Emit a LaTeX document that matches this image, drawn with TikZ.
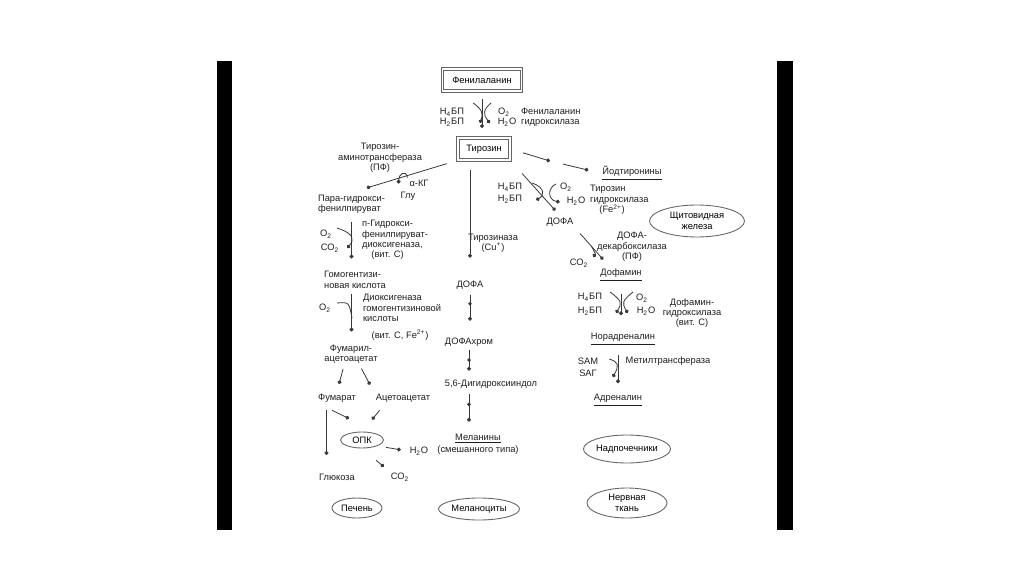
\documentclass[tikz,border=0pt]{standalone}
\usepackage{fontspec}
\setmainfont{Liberation Sans}
\usetikzlibrary{positioning,arrows.meta,calc,shapes.geometric}
\colorlet{inkline}{black!78}
\colorlet{inkframe}{black!60}

\begin{document}
\begin{tikzpicture}[x=0.02cm, y=-0.02cm,
  font=\fontsize{5.3}{5.9}\selectfont,
  lbl/.style={inner sep=1pt, align=center, text=black!88},
  lbll/.style={lbl, align=left},
  subst/.style={draw=inkframe, double, double distance=1.1pt, fill=white, inner sep=1pt, minimum height=0.44cm},
  organ/.style={draw=inkframe, ellipse, inner sep=0pt, align=center, line width=0.5pt},
  conn/.style={line width=0.45pt, draw=inkline},
  dotarr/.style={conn, -{Circle[length=2.2pt]}},
  middot/.style={circle, fill=inkline, inner sep=0pt, minimum size=2.2pt}
]
\useasboundingbox (0,0) rectangle (1024,574);
\fill[white] (0,0) rectangle (1024,574);
\fill[black] (217,61) rectangle (232,530);
\fill[black] (777,61) rectangle (793,530);

% phenylalanine -> tyrosine
\node[subst, minimum width=1.58cm] (phe) at (482,80) {Фенилаланин};
\node[subst, minimum width=1.04cm] (tyr) at (484,149) {Тирозин};
\node[lbl] (h4a) at (452,112) {H\textsubscript{4}БП};
\node[lbl] (h2a) at (452,122) {H\textsubscript{2}БП};
\node[lbl] (o2a) at (504,112) {O\textsubscript{2}};
\node[lbl] (h2oa) at (507,122) {H\textsubscript{2}O};
\node[lbll, anchor=west] (pah) at (519,117) {Фенилаланин\\гидроксилаза};
\draw[dotarr, shorten <=4.5pt, shorten >=5.5pt] (phe.south) -- (phe.south |- tyr.north);
\draw[dotarr] ([shift={(7,-9)}]h4a.east) .. controls (483,110) and (483,114) .. ([shift={(14,1)}]h2a.east);
\draw[dotarr] ([shift={(-5,-9)}]o2a.west) .. controls (483,110) and (483,114) .. ([shift={(-6,1)}]h2oa.west);

% transamination branch
\node[lbl] (tat) at (380,158) {Тирозин-\\аминотрансфераза\\(ПФ)};
\node[lbl] (akg) at (419,183) {α-КГ};
\node[lbl] (glu) at (408,196) {Глу};
\node[lbll, anchor=west] (php) at (316,204) {Пара-гидрокси-\\фенилпируват};
\draw[dotarr, shorten <=6.5pt, shorten >=9pt] (tyr.south west) -- (php.north);
\draw[dotarr] (akg.north west) .. controls +(-2,-9) and +(0,-9) .. ([yshift=3.5pt]glu.north west);

\node[lbll, anchor=west] (hga) at (322,280) {Гомогентизи-\\новая кислота};
\node[lbl] (o2b) at (326,234) {O\textsubscript{2}};
\node[lbl] (co2b) at (330,248) {CO\textsubscript{2}};
\node[lbll, anchor=west] (hppd) at (360,240) {п-Гидрокси-\\фенилпируват-\\диоксигеназа,\\\quad(вит. С)};
\draw[dotarr, shorten <=4pt, shorten >=6.3pt] (php.south) -- (php.south |- hga.north);
\draw[dotarr] ([shift={(3,-6)}]o2b.east) .. controls (355,234) and (354,240) .. ([shift={(6,0)}]co2b.east);

\node[lbl] (faa) at (351,354) {Фумарил-\\ацетоацетат};
\node[lbl] (o2c) at (325,308) {O\textsubscript{2}};
\node[lbll, anchor=west] (hgd) at (361,308) {Диоксигеназа\\гомогентизиновой\\кислоты};
\node[lbl] (hgdcof) at (400,335) {(вит. С, Fe\textsuperscript{2+})};
\coordinate (hgdjoin) at (352,318);
\draw[dotarr, shorten <=2pt, shorten >=6.3pt] (hga.south -| php.south) -- (php.south |- faa.north);
\draw[conn] ([shift={(4,-5)}]o2c.east) .. controls (349,302) .. (hgdjoin);

\node[lbl] (fum) at (337,398) {Фумарат};
\node[lbl] (aca) at (403,398) {Ацетоацетат};
\draw[dotarr, shorten <=2pt, shorten >=4.5pt] ([xshift=-4pt]faa.south) -- (fum.north);
\draw[dotarr, shorten <=2pt, shorten >=4.5pt] ([xshift=5pt]faa.south) -- (aca.north west);

\node[lbl] (glc) at (337,477) {Глюкоза};
\node[organ, minimum width=0.86cm, minimum height=0.32cm] (opk) at (362,440) {ОПК};
\node[lbl] (h2ob) at (419,451) {H\textsubscript{2}O};
\node[lbl] (co2c) at (400,477) {CO\textsubscript{2}};
\draw[dotarr, shorten <=3pt, shorten >=9.5pt] ([xshift=-6pt]fum.south) -- ([xshift=-6pt]glc.north);
\draw[dotarr] ([shift={(-5,6)}]fum.south) -- ([shift={(-13,-13)}]opk.north);
\draw[dotarr] ([shift={(6,6)}]aca.south west) -- ([shift={(10,-12)}]opk.north);
\draw[dotarr, shorten <=5pt, shorten >=4pt] (opk.south east) -- (h2ob.west);
\draw[dotarr, shorten <=10.5pt, shorten >=3.6pt] (opk.south) -- (co2c.north west);

\node[organ, minimum width=1.0cm, minimum height=0.4cm] (liver) at (357,508) {Печень};

% tyrosinase branch
\node[lbl] (dofa2) at (470,285) {ДОФА};
\node[lbl] (tyrase) at (493,243) {Тирозиназа\\(Cu\textsuperscript{+})};
\draw[dotarr, shorten <=5.7pt, shorten >=12pt] (tyr.south -| dofa2.north) -- (dofa2.north);

\node[lbl] (dchr) at (469,342) {ДОФАхром};
\draw[dotarr, shorten <=2pt, shorten >=8.5pt] (dofa2.south) -- node[middot, pos=.28]{} (dofa2.south |- dchr.north);

\node[lbl] (dhi) at (491,384) {5,6-Дигидроксииндол};
\draw[dotarr, shorten <=1pt, shorten >=4pt] (dchr.south) -- node[middot, pos=.4]{} (dchr.south |- dhi.north);

\node[lbl] (mel) at (478,444) {\underline{Меланины}\\[1pt](смешанного типа)};
\draw[dotarr, shorten <=2.3pt, shorten >=5.7pt] (dhi.south -| dchr.south) -- node[middot, pos=.34]{} (dchr.south |- mel.north);

\node[organ, minimum width=1.62cm, minimum height=0.44cm] (melcyt) at (479,509) {Меланоциты};

% hydroxylase branch
\node[lbl] (iod) at (632,173) {\underline{Йодтиронины}};
\coordinate (iodmid) at (550,161);
\draw[dotarr, shorten <=7.5pt] (tyr.east) -- (iodmid);
\draw[dotarr, shorten <=7.5pt, shorten >=7pt] (iodmid) -- (iod.west);

\node[lbl] (dofa1) at (560,222) {ДОФА};
\node[lbl] (h4c) at (510,187) {H\textsubscript{4}БП};
\node[lbl] (h2c) at (510,199) {H\textsubscript{2}БП};
\node[lbl] (o2d) at (566,187) {O\textsubscript{2}};
\node[lbl] (h2od) at (576,201) {H\textsubscript{2}O};
\node[lbll, anchor=west] (th) at (588,200) {Тирозин\\гидроксилаза\\\quad(Fe\textsuperscript{2+})};
\draw[dotarr, shorten <=10pt, shorten >=4pt] (tyr.south east) -- (dofa1.north);
\draw[dotarr] ([shift={(8,-4)}]h4c.east) .. controls (546,188) and (544,196) .. ([shift={(12,1)}]h2c.east);
\draw[dotarr] ([shift={(-2,-3)}]o2d.west) .. controls (547,188) and (548,200) .. ([shift={(-5,1)}]h2od.west);

\node[organ, minimum width=1.9cm, minimum height=0.64cm] (thy) at (697,221) {Щитовидная\\железа};

\node[lbl] (dopa) at (621,275) {\underline{Дофамин}};
\node[lbl] (co2d) at (579,263) {CO\textsubscript{2}};
\node[lbl] (ddc) at (632,247) {ДОФА-\\декарбоксилаза\\(ПФ)};
\draw[dotarr, shorten <=4pt, shorten >=1pt] (dofa1.south east) -- ([shift={(6,-6)}]dopa.north west);
\draw[dotarr] ([shift={(1,-17)}]co2d.east) .. controls +(3,5) and +(2,-3) .. ([shift={(3,-6)}]co2d.east);

\node[lbl] (nor) at (623,339) {\underline{Норадреналин}};
\node[lbl] (h4e) at (590,297) {H\textsubscript{4}БП};
\node[lbl] (h2e) at (590,311) {H\textsubscript{2}БП};
\node[lbl] (o2e) at (642,298) {O\textsubscript{2}};
\node[lbl] (h2oe) at (646,311) {H\textsubscript{2}O};
\node[lbl] (dbh) at (692,313) {Дофамин-\\гидроксилаза\\(вит. С)};
\draw[dotarr, shorten <=6pt, shorten >=9pt] (dopa.south) -- (dopa.south |- nor.north);
\draw[dotarr] ([shift={(6,-5)}]h4e.east) .. controls (622,301) and (622,303) .. ([shift={(12,2)}]h2e.east);
\draw[dotarr] ([shift={(-1,-6)}]o2e.west) .. controls (622,301) and (622,303) .. ([shift={(-7,2)}]h2oe.west);

\node[lbl] (adr) at (618,400) {\underline{Адреналин}};
\node[lbl] (sam) at (588,361) {SAM};
\node[lbl] (sag) at (588,373) {SAГ};
\node[lbl] (mt) at (668,361) {Метилтрансфераза};
\draw[dotarr, shorten <=4.5pt, shorten >=5pt] (nor.south -| adr.north) -- (adr.north);
\draw[dotarr] ([shift={(9,-2)}]sam.east) .. controls (619,362) and (619,366) .. ([shift={(14,4)}]sag.east);

\node[organ, minimum width=1.6cm, minimum height=0.56cm] (adrgl) at (627,449) {Надпочечники};
\node[organ, minimum width=1.6cm, minimum height=0.6cm] (nerve) at (627,503) {Нервная\\ткань};
\end{tikzpicture}
\end{document}
